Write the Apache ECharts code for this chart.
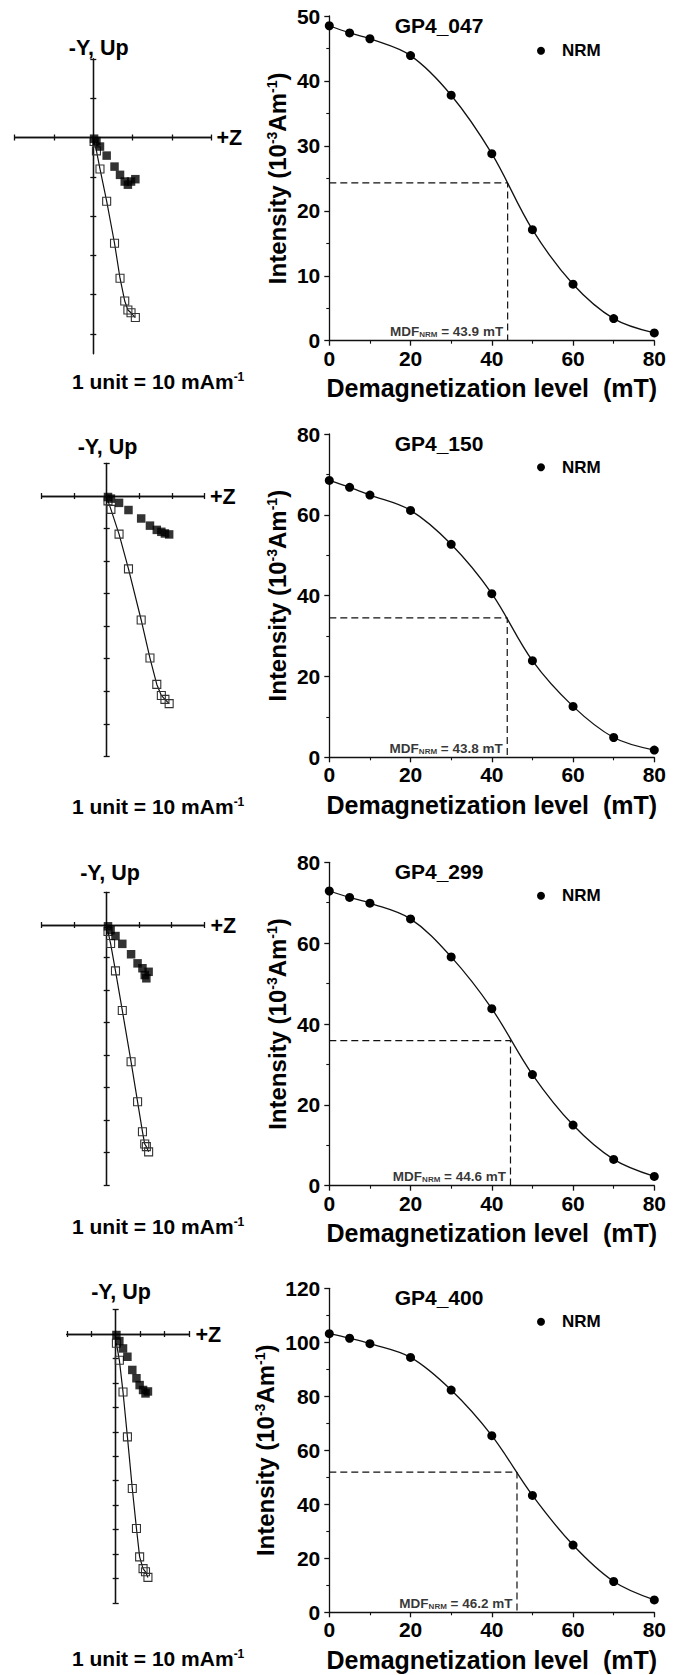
<!DOCTYPE html>
<html>
<head>
<meta charset="utf-8">
<title>AF demagnetization of GP4 samples</title>
<script src="https://cdn.jsdelivr.net/npm/echarts@6/dist/echarts.min.js"></script>
<style>
  html, body { margin: 0; padding: 0; background: #ffffff; }
  #chart { width: 681px; height: 1675px; }
</style>
</head>
<body>
<div id="chart"></div>
<script>
// ---------------------------------------------------------------
// Data
// ---------------------------------------------------------------
// AF demagnetization steps (mT)
const levels = [0, 5, 10, 20, 30, 40, 50, 60, 70, 80];
const sampleNames = ['GP4_047', 'GP4_150', 'GP4_299', 'GP4_400'];

// NRM intensity after each step (10^-3 A/m)
const nrm047 = [48.5, 47.4, 46.5, 43.9, 37.8, 28.8, 17.1, 8.7, 3.4, 1.2];
const nrm150 = [68.5, 66.8, 64.9, 61.1, 52.7, 40.5, 23.9, 12.6, 4.9, 1.8];
const nrm299 = [72.9, 71.3, 69.9, 66.0, 56.6, 43.8, 27.5, 15.0, 6.5, 2.3];
const nrm400 = [103.2, 101.5, 99.5, 94.4, 82.3, 65.4, 43.3, 24.9, 11.4, 4.6];

// Median destructive field and the half-intensity level it is read at
const mdfValues = [43.9, 43.8, 44.6, 46.2];
const mdfIntensity = [24.3, 34.5, 35.9, 51.9];

// Intensity axis extents
const intensityMax = [50, 80, 80, 120];
const intensityStep = [10, 20, 20, 20];

// Orthogonal vector components per step (1 unit = 10 mA/m)
// z: +Z (horizontal axis), hor: horizontal-plane projection (filled),
// up: vertical-plane projection (open)
const z047 = [1.07, 0.96, 0.88, 0.80, 0.68, 0.54, 0.34, 0.17, 0.08, 0.02];
const hor047 = [-1.06, -1.12, -1.20, -1.12, -0.95, -0.74, -0.46, -0.23, -0.09, -0.03];
const up047 = [-4.58, -4.46, -4.39, -4.16, -3.58, -2.69, -1.62, -0.80, -0.34, -0.10];

const z150 = [1.92, 1.79, 1.68, 1.54, 1.33, 1.06, 0.67, 0.38, 0.13, 0.04];
const hor150 = [-1.18, -1.15, -1.10, -1.04, -0.91, -0.69, -0.43, -0.21, -0.08, -0.03];
const up150 = [-6.38, -6.25, -6.13, -5.79, -4.98, -3.81, -2.24, -1.17, -0.41, -0.15];

const z299 = [1.29, 1.22, 1.17, 1.10, 0.95, 0.75, 0.48, 0.27, 0.12, 0.04];
const hor299 = [-1.44, -1.64, -1.54, -1.33, -1.18, -0.90, -0.58, -0.34, -0.16, -0.04];
const up299 = [-6.98, -6.82, -6.74, -6.36, -5.44, -4.21, -2.63, -1.41, -0.57, -0.20];

const z400 = [1.32, 1.22, 1.12, 0.98, 0.85, 0.68, 0.48, 0.30, 0.15, 0.03];
const hor400 = [-2.35, -2.43, -2.29, -2.09, -1.81, -1.47, -0.93, -0.59, -0.29, -0.04];
const up400 = [-9.96, -9.73, -9.60, -9.12, -7.96, -6.32, -4.21, -2.37, -1.07, -0.38];

// Projection axis extents (units)
const zRange = [-2, 3];
const upRanges = [[-5.5, 2], [-8, 1], [-8, 1], [-11, 1]];

const nrmSets = [nrm047, nrm150, nrm299, nrm400];
const zSets = [z047, z150, z299, z400];
const horSets = [hor047, hor150, hor299, hor400];
const upSets = [up047, up150, up299, up400];

// ---------------------------------------------------------------
// Layout and style
// ---------------------------------------------------------------
const FONT = 'Arial, "Liberation Sans", Helvetica, sans-serif';
const INK = '#111111';

const curveGrids = [
  { left: 329.3, top: 16.0, width: 325, height: 324.7 },
  { left: 329.3, top: 434.0, width: 325, height: 323.3 },
  { left: 329.3, top: 862.3, width: 325, height: 323.4 },
  { left: 329.3, top: 1288.3, width: 325, height: 324.0 }
];
const yNameGaps = [40, 40, 40, 52];
const titlePos = [[439, 25], [439, 443.3], [439, 871.7], [439, 1297.3]];
const legendDot = [[541, 50.7], [541, 467.3], [541, 895.7], [541, 1321.7]];

const zijGrids = [
  { left: 14.7, top: 58.9, width: 196.5, height: 294.8 },
  { left: 41.6, top: 463.5, width: 162.7, height: 292.8 },
  { left: 41.7, top: 892.5, width: 162.5, height: 292.5 },
  { left: 66.8, top: 1309.6, width: 122.2, height: 293.2 }
];
const upLabelPos = [[98.7, 48], [107.5, 446.7], [110, 873], [121, 1292.3]];
const zLabelPos = [[216.5, 137.5], [210, 496.5], [210.5, 925.5], [195.5, 1335]];
const unitLabelPos = [[72, 381.7], [72, 806.7], [72, 1226.7], [72, 1658]];

function integerTicks(lo, hi) {
  const out = [];
  for (let v = Math.ceil(lo); v <= hi; v++) if (v !== 0) out.push(v);
  return out;
}

const option = {
  animation: false,
  backgroundColor: '#ffffff',
  textStyle: { fontFamily: FONT },
  grid: [],
  xAxis: [],
  yAxis: [],
  legend: [],
  series: [],
  graphic: []
};

const curveAxisLine = { show: true, onZero: false, lineStyle: { color: INK, width: 1.3 } };
const curveTick = { show: true, length: 5, lineStyle: { color: INK, width: 1.3 } };
const curveMinor = { show: true, splitNumber: 2, length: 3, lineStyle: { color: INK, width: 1.1 } };
const boldLabel = { color: '#000', fontSize: 21, fontWeight: 'bold', fontFamily: FONT };

sampleNames.forEach((name, i) => {
  // ---------- intensity decay curve ----------
  const gCurve = option.grid.length;
  option.grid.push(Object.assign({ outerBoundsMode: 'none', containLabel: false }, curveGrids[i]));

  const xCurve = option.xAxis.length;
  option.xAxis.push({
    type: 'value', gridIndex: gCurve, min: 0, max: 80, interval: 20,
    axisLine: curveAxisLine, axisTick: curveTick, minorTick: curveMinor,
    splitLine: { show: false }, minorSplitLine: { show: false },
    axisLabel: Object.assign({ margin: 7 }, boldLabel),
    name: 'Demagnetization level  (mT)', nameLocation: 'middle', nameGap: 35,
    nameMoveOverlap: false,
    nameTextStyle: { color: '#000', fontSize: 25, fontWeight: 'bold', fontFamily: FONT }
  });

  const yCurve = option.yAxis.length;
  option.yAxis.push({
    type: 'value', gridIndex: gCurve, min: 0, max: intensityMax[i], interval: intensityStep[i],
    axisLine: curveAxisLine, axisTick: curveTick, minorTick: curveMinor,
    splitLine: { show: false }, minorSplitLine: { show: false },
    axisLabel: Object.assign({ margin: 9 }, boldLabel),
    name: '{b|Intensity (10}{s|-3}{b|Am}{s|-1}{b|)}',
    nameLocation: 'middle', nameGap: yNameGaps[i], nameMoveOverlap: false,
    nameTextStyle: {
      color: '#000', fontFamily: FONT,
      rich: {
        b: { fontSize: 24, fontWeight: 'bold', color: '#000', fontFamily: FONT },
        s: { fontSize: 14, fontWeight: 'bold', color: '#000', fontFamily: FONT, verticalAlign: 'top' }
      }
    }
  });

  option.series.push({
    name: 'NRM', type: 'line', xAxisIndex: xCurve, yAxisIndex: yCurve,
    data: levels.map((lv, j) => [lv, nrmSets[i][j]]),
    smooth: 0.35, symbol: 'circle', symbolSize: 9,
    itemStyle: { color: '#000' }, lineStyle: { color: INK, width: 1.3 }, z: 4
  });

  option.series.push({
    name: 'MDF', type: 'line', xAxisIndex: xCurve, yAxisIndex: yCurve,
    data: [[0, mdfIntensity[i]], [mdfValues[i], mdfIntensity[i]], [mdfValues[i], 0]],
    symbol: 'none', silent: true,
    lineStyle: { color: INK, width: 1.2, type: [7, 4] }, z: 3
  });

  option.series.push({
    name: 'MDF label', type: 'scatter', xAxisIndex: xCurve, yAxisIndex: yCurve,
    data: [[mdfValues[i], 0]], symbolSize: 1, silent: true,
    itemStyle: { color: 'rgba(0,0,0,0)' },
    label: {
      show: true, position: 'left', distance: 4, offset: [0, -9],
      formatter: '{a|MDF}{s|NRM}{a| = ' + mdfValues[i].toFixed(1) + ' mT}',
      rich: {
        a: { fontSize: 13.5, fontWeight: 'bold', color: '#000', fontFamily: FONT },
        s: { fontSize: 8, fontWeight: 'bold', color: '#000', fontFamily: FONT, verticalAlign: 'bottom' }
      }
    }
  });

  option.legend.push({
    show: true, data: ['NRM'], orient: 'horizontal',
    left: legendDot[i][0] - 4, top: legendDot[i][1] - 8.5, padding: 0,
    itemWidth: 8, itemHeight: 8, icon: 'circle', selectedMode: false,
    textStyle: { color: '#000', fontSize: 17, fontWeight: 'bold', fontFamily: FONT, padding: [0, 0, 0, 12] }
  });

  option.graphic.push({
    type: 'text', x: titlePos[i][0], y: titlePos[i][1],
    style: {
      text: name, fill: '#000', fontSize: 21, fontWeight: 'bold', fontFamily: FONT,
      align: 'center', verticalAlign: 'middle'
    }
  });

  // ---------- orthogonal vector projection ----------
  const gZij = option.grid.length;
  option.grid.push(Object.assign({ outerBoundsMode: 'none', containLabel: false }, zijGrids[i]));

  const zTicks = integerTicks(zRange[0], zRange[1]);
  const upTicks = integerTicks(upRanges[i][0], upRanges[i][1]);
  const zijLine = { show: true, onZero: true, lineStyle: { color: INK, width: 1.3 } };

  const xZij = option.xAxis.length;
  ['bottom', 'top'].forEach((pos) => {
    option.xAxis.push({
      type: 'value', gridIndex: gZij, min: zRange[0], max: zRange[1], position: pos,
      axisLine: zijLine,
      axisTick: { show: true, length: 3, customValues: zTicks, lineStyle: { color: INK, width: 1.3 } },
      axisLabel: { show: false }, splitLine: { show: false }
    });
  });

  const yZij = option.yAxis.length;
  ['left', 'right'].forEach((pos) => {
    option.yAxis.push({
      type: 'value', gridIndex: gZij, min: upRanges[i][0], max: upRanges[i][1], position: pos,
      axisLine: zijLine,
      axisTick: { show: true, length: 3, customValues: upTicks, lineStyle: { color: INK, width: 1.3 } },
      axisLabel: { show: false }, splitLine: { show: false }
    });
  });

  option.series.push({
    name: 'Vertical projection', type: 'line', xAxisIndex: xZij, yAxisIndex: yZij,
    data: zSets[i].map((zv, j) => [zv, upSets[i][j]]),
    symbol: 'rect', symbolSize: 8, silent: true,
    itemStyle: { color: 'rgba(255,255,255,0)', borderColor: '#333', borderWidth: 1.1 },
    lineStyle: { color: INK, width: 1.2 }, z: 3
  });

  option.series.push({
    name: 'Horizontal projection', type: 'scatter', xAxisIndex: xZij, yAxisIndex: yZij,
    data: zSets[i].map((zv, j) => [zv, horSets[i][j]]),
    symbol: 'rect', symbolSize: 8.5, silent: true,
    itemStyle: { color: '#000' }, z: 4
  });

  option.graphic.push({
    type: 'text', x: upLabelPos[i][0], y: upLabelPos[i][1],
    style: {
      text: '-Y, Up', fill: '#000', fontSize: 21.5, fontWeight: 'bold', fontFamily: FONT,
      align: 'center', verticalAlign: 'middle'
    }
  });
  option.graphic.push({
    type: 'text', x: zLabelPos[i][0], y: zLabelPos[i][1],
    style: {
      text: '+Z', fill: '#000', fontSize: 21.5, fontWeight: 'bold', fontFamily: FONT,
      align: 'left', verticalAlign: 'middle'
    }
  });
  option.graphic.push({
    type: 'text', x: unitLabelPos[i][0], y: unitLabelPos[i][1],
    style: {
      text: '{b|1 unit = 10 mAm}{s|-1}',
      align: 'left', verticalAlign: 'middle',
      rich: {
        b: { fill: '#000', fontSize: 21, fontWeight: 'bold', fontFamily: FONT },
        s: { fill: '#000', fontSize: 12, fontWeight: 'bold', fontFamily: FONT, verticalAlign: 'top' }
      }
    }
  });
});

const chart = echarts.init(document.getElementById('chart'), null, { renderer: 'svg', width: 681, height: 1675 });
chart.setOption(option);
</script>
</body>
</html>
